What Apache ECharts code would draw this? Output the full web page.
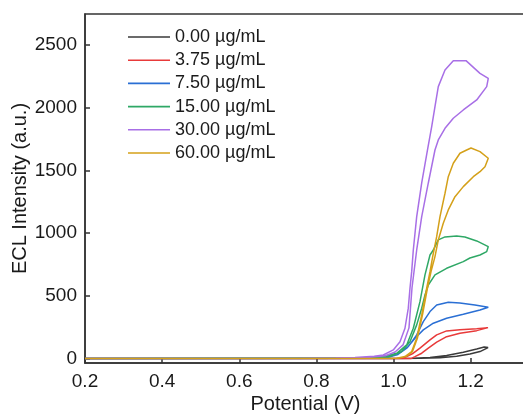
<!DOCTYPE html>
<html>
<head>
<meta charset="utf-8">
<script src="https://cdn.jsdelivr.net/npm/echarts@6/dist/echarts.min.js"></script>
<style>
html,body{margin:0;padding:0;background:#fff;}
#chart{width:523px;height:419px;}
</style>
</head>
<body>
<div id="chart"></div>
<script>
// Series names (legend)
const seriesNames = ['0.00 µg/mL', '3.75 µg/mL', '7.50 µg/mL', '15.00 µg/mL', '30.00 µg/mL', '60.00 µg/mL'];
const seriesColors = ['#3a3a3a', '#e83a3a', '#2a6fd4', '#2fa866', '#a86fe6', '#d4a019'];

// Tick labels
const xTicks = [0.2, 0.4, 0.6, 0.8, 1.0, 1.2];
const yTicks = [0, 500, 1000, 1500, 2000, 2500];

// Data: [potential (V), ECL intensity (a.u.)], forward scan then reverse scan
const conc000 = [[0.2,0],[1.0,0],[1.05,3],[1.0945,8],[1.1376,24],[1.1808,51],[1.2156,77],[1.235,93],[1.245,88],[1.2241,56],[1.198,37],[1.1636,19],[1.1204,6],[1.069,2],[1.0,0],[0.2,0]];
const conc375 = [[0.2,0],[1.017,0],[1.034,16],[1.0512,43],[1.0685,83],[1.0945,149],[1.1118,189],[1.1376,221],[1.172,231],[1.2156,239],[1.245,247],[1.2156,223],[1.172,202],[1.1376,175],[1.1118,131],[1.0901,83],[1.073,43],[1.0556,16],[1.045,0],[0.2,0]];
const conc750 = [[0.2,0],[0.9,1],[0.965,10],[1.0082,29],[1.0382,96],[1.06,189],[1.0771,295],[1.0945,375],[1.1118,428],[1.1419,449],[1.172,444],[1.211,428],[1.2456,410],[1.2241,388],[1.1808,354],[1.1376,322],[1.1031,282],[1.0771,229],[1.0556,163],[1.0341,83],[1.0115,33],[0.9856,11],[0.939,3],[0.2,0]];
const conc1500 = [[0.2,0],[0.9,2],[0.9734,16],[1.0082,43],[1.0341,109],[1.0512,242],[1.0685,454],[1.0815,667],[1.0945,826],[1.1031,866],[1.116,946],[1.1334,970],[1.1637,978],[1.185,970],[1.2156,938],[1.2456,893],[1.2415,853],[1.2241,826],[1.198,802],[1.1808,773],[1.1376,720],[1.1074,667],[1.0901,587],[1.0815,508],[1.073,402],[1.06,269],[1.0426,135],[1.0211,56],[0.9907,16],[0.952,5],[0.2,0]];
const conc3000 = [[0.2,0],[0.75,0],[0.85,4],[0.9,9],[0.95,18],[0.9734,29],[0.9993,69],[1.0167,135],[1.0296,242],[1.0382,402],[1.0426,561],[1.047,693],[1.0512,866],[1.06,1132],[1.073,1400],[1.088,1663],[1.0989,1849],[1.1074,2008],[1.116,2168],[1.1334,2301],[1.1549,2375],[1.1878,2375],[1.2241,2274],[1.2456,2234],[1.2415,2168],[1.2156,2062],[1.1808,1982],[1.1549,1916],[1.1334,1836],[1.116,1743],[1.1074,1663],[1.0901,1400],[1.073,1132],[1.06,866],[1.0478,563],[1.04,245],[1.0245,109],[1.004,53],[0.978,22],[0.93,8],[0.85,2],[0.2,0]];
const conc6000 = [[0.2,0],[1.0,0],[1.0082,3],[1.0296,16],[1.047,56],[1.06,163],[1.073,348],[1.0859,561],[1.0945,693],[1.1023,826],[1.1118,972],[1.1204,1132],[1.1334,1318],[1.1419,1450],[1.1549,1557],[1.1722,1637],[1.1896,1663],[1.2008,1679],[1.2241,1650],[1.2456,1597],[1.2371,1530],[1.2241,1490],[1.2068,1450],[1.1808,1371],[1.1593,1291],[1.1419,1185],[1.1289,1079],[1.116,946],[1.1074,813],[1.097,691],[1.088,563],[1.075,348],[1.062,165],[1.049,56],[1.032,16],[1.011,3],[0.2,0]];

const allData = [conc000, conc375, conc750, conc1500, conc3000, conc6000];

const FONT = "'Liberation Sans', Arial, sans-serif";
const chart = echarts.init(document.getElementById('chart'), null, {renderer: 'canvas'});

const series = allData.map((d, i) => ({
  name: seriesNames[i],
  type: 'line',
  data: d,
  showSymbol: false,
  symbol: 'none',
  smooth: false,
  lineStyle: {color: seriesColors[i], width: 1.5},
  itemStyle: {color: seriesColors[i]},
  z: 2 + i
}));

chart.setOption({
  animation: false,
  backgroundColor: '#ffffff',
  textStyle: {fontFamily: FONT},
  grid: {left: 85, right: -3, top: 14, bottom: 56, show: true, borderColor: '#333333', borderWidth: 1.5, containLabel: false, outerBoundsMode: 'none'},
  legend: {
    orient: 'vertical', left: 128, top: 28, padding: 0,
    icon: 'rect',
    itemWidth: 42, itemHeight: 1.6, itemGap: 5.2,
    textStyle: {fontSize: 18, color: '#1a1a1a', fontFamily: FONT, padding: [0, 0, 0, 0]},
    data: seriesNames
  },
  xAxis: {
    type: 'value', min: 0.2, max: 1.3434,
    name: 'Potential (V)', nameLocation: 'middle', nameGap: 31, nameMoveOverlap: false,
    nameTextStyle: {fontSize: 20, color: '#1a1a1a', fontFamily: FONT},
    axisLine: {show: true, onZero: false, lineStyle: {color: '#333333', width: 1.5}},
    axisTick: {show: true, inside: true, length: 5, customValues: xTicks, lineStyle: {color: '#333333', width: 1.5}},
    axisLabel: {customValues: xTicks, fontSize: 19, color: '#1a1a1a', margin: 9, fontFamily: FONT, formatter: v => Number(v).toFixed(1)},
    splitLine: {show: false}
  },
  yAxis: {
    type: 'value', min: -35, max: 2747,
    name: 'ECL Intensity (a.u.)', nameLocation: 'middle', nameGap: 55, nameMoveOverlap: false,
    nameTextStyle: {fontSize: 20, color: '#1a1a1a', fontFamily: FONT},
    axisLine: {show: true, onZero: false, lineStyle: {color: '#333333', width: 1.5}},
    axisTick: {show: true, inside: true, length: 5, customValues: yTicks, lineStyle: {color: '#333333', width: 1.5}},
    axisLabel: {customValues: yTicks, fontSize: 19, color: '#1a1a1a', margin: 8, fontFamily: FONT, formatter: v => String(v)},
    splitLine: {show: false}
  },
  series: series
});
</script>
</body>
</html>
